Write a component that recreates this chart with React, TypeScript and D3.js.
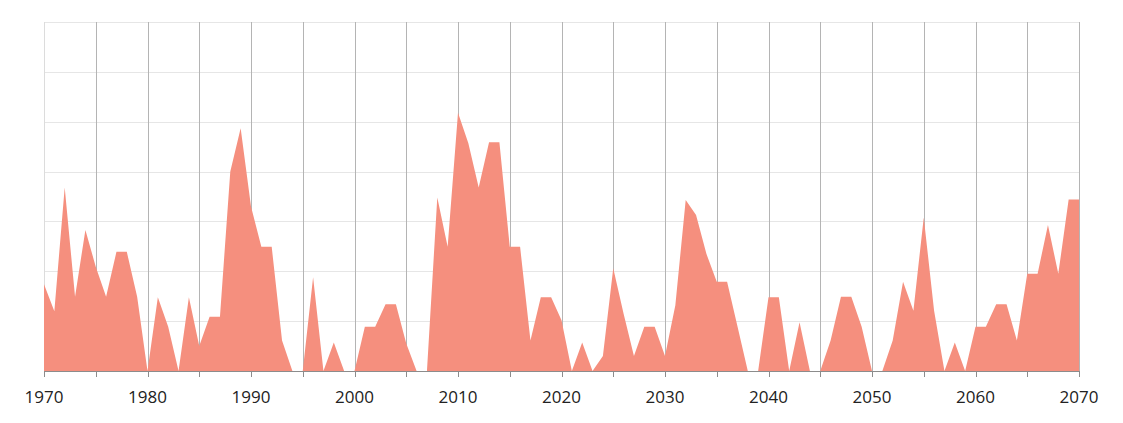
import React from "react";
import * as d3 from "d3";

const years: number[] = d3.range(1970, 2071);
const values: number[] = [
  1.74, 1.2, 3.68, 1.49, 2.83, 2.09, 1.49, 2.39, 2.39, 1.49, // 1970-1979
  0, 1.48, 0.89, 0, 1.48, 0.5, 1.09, 1.09, 4.0, 4.87, // 1980-1989
  3.3, 2.49, 2.49, 0.61, 0, 0, 1.88, 0, 0.57, 0, // 1990-1999
  0, 0.89, 0.89, 1.34, 1.34, 0.55, 0, 0, 3.48, 2.49, // 2000-2009
  5.18, 4.57, 3.68, 4.59, 4.59, 2.49, 2.49, 0.61, 1.48, 1.48, // 2010-2019
  1.02, 0, 0.57, 0, 0.3, 2.06, 1.15, 0.3, 0.89, 0.89, // 2020-2029
  0.3, 1.32, 3.43, 3.13, 2.35, 1.79, 1.79, 0.9, 0, 0, // 2030-2039
  1.48, 1.48, 0, 0.98, 0, 0, 0.61, 1.49, 1.49, 0.89, // 2040-2049
  0, 0, 0.61, 1.79, 1.21, 3.08, 1.21, 0, 0.57, 0, // 2050-2059
  0.89, 0.89, 1.34, 1.34, 0.61, 1.95, 1.95, 2.93, 1.95, 3.44, // 2060-2069
  3.44, // 2070
];
const yGridValues: number[] = [0, 1, 2, 3, 4, 5, 6, 7];
const xMinorTicks: number[] = d3.range(1970, 2071, 5);
const xLabelTicks: number[] = d3.range(1970, 2071, 10);

const W = 1123;
const H = 423;
const left = 44;
const right = 1079;
const top = 22;
const bottom = 371;

export default function App() {
  const x = d3.scaleLinear().domain([1970, 2070]).range([left, right]);
  const y = d3.scaleLinear().domain([0, 7]).range([bottom, top]);
  const data = years.map((yr, i) => ({ yr, v: values[i] }));
  const area = d3
    .area<{ yr: number; v: number }>()
    .x((d) => x(d.yr))
    .y0(y(0))
    .y1((d) => y(d.v));

  return (
    <svg
      width={W}
      height={H}
      style={{ position: "absolute", left: 0, top: 0, background: "#fff" }}
    >
      {yGridValues.map((g) => (
        <line
          key={"h" + g}
          x1={left}
          x2={right}
          y1={Math.round(y(g)) + 0.5}
          y2={Math.round(y(g)) + 0.5}
          stroke="#e6e6e6"
          strokeWidth={1}
        />
      ))}
      <line x1={left + 0.5} x2={left + 0.5} y1={top} y2={bottom} stroke="#dcdcdc" />
      {xMinorTicks
        .filter((t) => t !== 1970)
        .map((t) => (
          <line
            key={"v" + t}
            x1={Math.round(x(t)) + 0.5}
            x2={Math.round(x(t)) + 0.5}
            y1={top}
            y2={bottom}
            stroke="#b4b4b4"
            strokeWidth={1}
          />
        ))}
      <path d={area(data) || ""} fill="#f58f7e" />
      <line x1={left} x2={right + 1} y1={bottom + 0.5} y2={bottom + 0.5} stroke="#8c8c8c" />
      {xMinorTicks.map((t) => (
        <line
          key={"t" + t}
          x1={Math.round(x(t)) + 0.5}
          x2={Math.round(x(t)) + 0.5}
          y1={bottom}
          y2={bottom + 6}
          stroke="#8c8c8c"
        />
      ))}
      {xLabelTicks.map((t) => (
        <text
          key={"l" + t}
          x={x(t)}
          y={403}
          textAnchor="middle"
          fontFamily="'Open Sans', 'Noto Sans', sans-serif"
          fontSize={17}
          fill="#222"
        >
          {t}
        </text>
      ))}
    </svg>
  );
}
